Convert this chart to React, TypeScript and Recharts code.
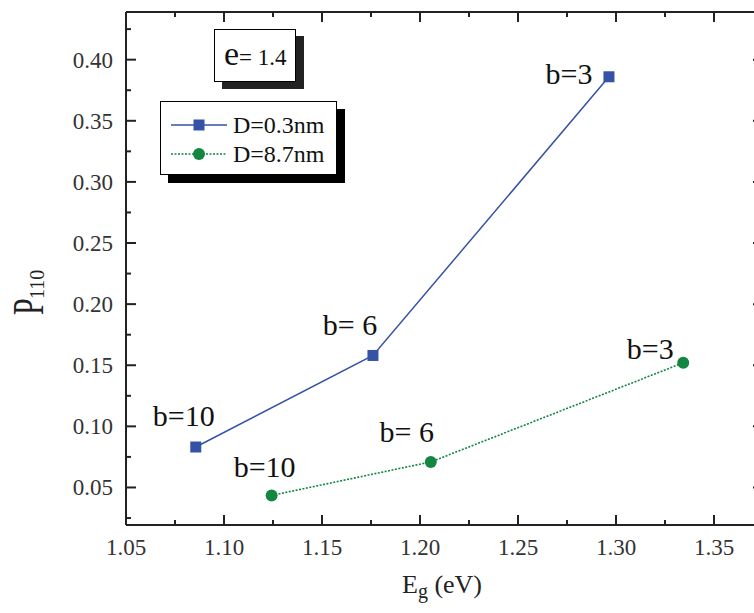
import React from 'react';
import { LineChart, Line, XAxis, YAxis, LabelList, Legend } from 'recharts';

// ---- data ----
const bLabels = ['b=10', 'b= 6', 'b=3'];
const egSmallD = [1.0856, 1.176, 1.2964]; // D=0.3nm
const pSmallD = [0.0831, 0.158, 0.386];
const egLargeD = [1.1243, 1.2055, 1.3343]; // D=8.7nm
const pLargeD = [0.0435, 0.0709, 0.152];
const seriesNames = ['D=0.3nm', 'D=8.7nm'];
const xTicks = [1.05, 1.075, 1.1, 1.125, 1.15, 1.175, 1.2, 1.225, 1.25, 1.275, 1.3, 1.325, 1.35];
const yTicks = [0.025, 0.05, 0.075, 0.1, 0.125, 0.15, 0.175, 0.2, 0.225, 0.25, 0.275, 0.3, 0.325, 0.35, 0.375, 0.4, 0.425];
const xDomain = [1.05, 1.375];
const yDomain = [0.0193, 0.439];
const eccentricityText = ['e', '= 1.4'];
const yLabelParts = ['P', '110'];
const xLabelParts = ['E', 'g', ' (eV)'];

const smallData = egSmallD.map((eg, i) => ({ eg, p: pSmallD[i], label: bLabels[i] }));
const largeData = egLargeD.map((eg, i) => ({ eg, p: pLargeD[i], label: bLabels[i] }));

// ---- style ----
const BLUE = '#3552A6';
const GREEN = '#138642';
const AX = '#222';
const SERIF = 'Liberation Serif';
const smallLabelOffsets = [[-12, -21], [-23, -20], [-40, 7]];
const largeLabelOffsets = [[-7, -18], [-24, -20], [-33, -4]];

const isMajor = (v: number) => Math.round(v * 1000) % 50 === 0;

const makeTick = (side: 'bottom' | 'top' | 'left' | 'right') => (props: any) => {
  const { x, y, payload } = props;
  const v = payload.value;
  const len = isMajor(v) ? 10 : 5;
  let line;
  if (side === 'bottom') line = <line x1={x} x2={x} y1={y} y2={y - len} stroke={AX} strokeWidth={2} />;
  else if (side === 'top') line = <line x1={x} x2={x} y1={y} y2={y + len} stroke={AX} strokeWidth={2} />;
  else if (side === 'left') line = <line x1={x} x2={x + len} y1={y} y2={y} stroke={AX} strokeWidth={2} />;
  else line = <line x1={x} x2={x - len} y1={y} y2={y} stroke={AX} strokeWidth={2} />;
  let text = null;
  if (isMajor(v) && side === 'bottom') {
    text = (
      <text x={x} y={y + 30} textAnchor="middle" style={{ fontFamily: SERIF }} fontSize={23} fill="#333">
        {v.toFixed(2)}
      </text>
    );
  } else if (isMajor(v) && side === 'left') {
    text = (
      <text x={x - 13} y={y + 8} textAnchor="end" style={{ fontFamily: SERIF }} fontSize={23} fill="#333">
        {v.toFixed(2)}
      </text>
    );
  }
  return (
    <g>
      {line}
      {text}
    </g>
  );
};

const makeLabel = (offsets: number[][]) => (props: any) => {
  const { x, y, value, index } = props;
  const [dx, dy] = offsets[index];
  return (
    <text x={x + dx} y={y + dy} textAnchor="middle" style={{ fontFamily: SERIF }} fontSize={30} fill="#111">
      {value}
    </text>
  );
};

const SquareDot = (props: any) => {
  const { cx, cy, index } = props;
  return <rect key={`sq-${index}`} x={cx - 5.5} y={cy - 5.5} width={11} height={11} fill={BLUE} />;
};
const CircleDot = (props: any) => {
  const { cx, cy, index } = props;
  return <circle key={`ci-${index}`} cx={cx} cy={cy} r={6} fill={GREEN} />;
};

const renderLegend = () => (
  <div
    style={{
      width: 177,
      height: 74,
      boxSizing: 'border-box',
      border: '1.5px solid #000',
      background: '#fff',
      boxShadow: '8px 8px 0 #000',
      position: 'relative',
    }}
  >
    <svg width={177} height={74} style={{ position: 'absolute', left: -1.5, top: -1.5 }}>
      <line x1={11} x2={67} y1={24} y2={24} stroke={BLUE} strokeWidth={1.5} />
      <rect x={33.5} y={18.5} width={11} height={11} fill={BLUE} />
      <text x={73} y={32} style={{ fontFamily: SERIF }} fontSize={24} fill="#111">{seriesNames[0]}</text>
      <line x1={11} x2={67} y1={53} y2={53} stroke={GREEN} strokeWidth={1.6} strokeDasharray="2 1.5" />
      <circle cx={39} cy={53} r={6} fill={GREEN} />
      <text x={73} y={61} style={{ fontFamily: SERIF }} fontSize={24} fill="#111">{seriesNames[1]}</text>
    </svg>
  </div>
);

const XLabel = () => (
  <text x={402} y={593} style={{ fontFamily: SERIF }} fontSize={26} fill="#222">
    {xLabelParts[0]}
    <tspan fontSize={20} dy={5}>{xLabelParts[1]}</tspan>
    <tspan dy={-5}>{xLabelParts[2]}</tspan>
  </text>
);

const YLabel = () => (
  <g>
    <text transform="translate(43 315) rotate(-90) scale(1 1.5)" x={0} y={0} style={{ fontFamily: SERIF }} fontSize={30} fill="#222">
      {yLabelParts[0]}
    </text>
    <text transform="translate(44 299) rotate(-90)" x={0} y={0} style={{ fontFamily: SERIF }} fontSize={20} fill="#222">
      {yLabelParts[1]}
    </text>
  </g>
);

export default function App() {
  return (
    <div style={{ position: 'absolute', left: 0, top: 0, width: 754, height: 613, overflow: 'hidden', background: '#fff', fontFamily: SERIF }}>
      <LineChart width={771} height={613} margin={{ top: 0, right: 0, bottom: 0, left: 0 }}>
        <XAxis
          xAxisId="bottom"
          dataKey="eg"
          type="number"
          orientation="bottom"
          domain={xDomain}
          ticks={xTicks}
          interval={0}
          allowDataOverflow
          height={88}
          tickSize={0}
          tickMargin={0}
          tickLine={false}
          axisLine={{ stroke: AX, strokeWidth: 2 }}
          tick={makeTick('bottom')}
          label={<XLabel />}
        />
        <XAxis
          xAxisId="top"
          dataKey="eg"
          type="number"
          orientation="top"
          domain={xDomain}
          ticks={xTicks}
          interval={0}
          allowDataOverflow
          height={12}
          tickSize={0}
          tickMargin={0}
          tickLine={false}
          axisLine={{ stroke: AX, strokeWidth: 2 }}
          tick={makeTick('top')}
        />
        <YAxis
          yAxisId="left"
          type="number"
          orientation="left"
          domain={yDomain}
          ticks={yTicks}
          interval={0}
          allowDataOverflow
          width={126}
          tickSize={0}
          tickMargin={0}
          tickLine={false}
          axisLine={{ stroke: AX, strokeWidth: 2 }}
          tick={makeTick('left')}
          label={<YLabel />}
        />
        <YAxis
          yAxisId="right"
          type="number"
          orientation="right"
          domain={yDomain}
          ticks={yTicks}
          interval={0}
          allowDataOverflow
          width={8}
          tickSize={0}
          tickMargin={0}
          tickLine={false}
          axisLine={{ stroke: AX, strokeWidth: 2 }}
          tick={makeTick('right')}
        />
        <Legend
          layout="vertical"
          align="center"
          verticalAlign="middle"
          wrapperStyle={{ left: 160, top: 101, width: 177, height: 74 }}
          content={renderLegend}
        />
        <Line
          xAxisId="bottom"
          yAxisId="left"
          data={smallData}
          dataKey="p"
          name={seriesNames[0]}
          stroke={BLUE}
          strokeWidth={1.5}
          dot={SquareDot}
          activeDot={false}
          isAnimationActive={false}
        >
          <LabelList dataKey="label" content={makeLabel(smallLabelOffsets)} />
        </Line>
        <Line
          xAxisId="bottom"
          yAxisId="left"
          data={largeData}
          dataKey="p"
          name={seriesNames[1]}
          stroke={GREEN}
          strokeWidth={1.6}
          strokeDasharray="2 1.5"
          dot={CircleDot}
          activeDot={false}
          isAnimationActive={false}
        >
          <LabelList dataKey="label" content={makeLabel(largeLabelOffsets)} />
        </Line>
      </LineChart>
      <div
        style={{
          position: 'absolute',
          left: 214,
          top: 29,
          width: 82,
          height: 53,
          boxSizing: 'border-box',
          border: '1.5px solid #000',
          background: '#fff',
          boxShadow: '8px 7px 0 #222',
        }}
      >
        <div style={{ position: 'absolute', left: 9, top: 4, fontFamily: SERIF, color: '#111', whiteSpace: 'nowrap', lineHeight: '40px' }}>
          <span style={{ fontSize: 34 }}>{eccentricityText[0]}</span>
          <span style={{ fontSize: 23 }}>{eccentricityText[1]}</span>
        </div>
      </div>
    </div>
  );
}
